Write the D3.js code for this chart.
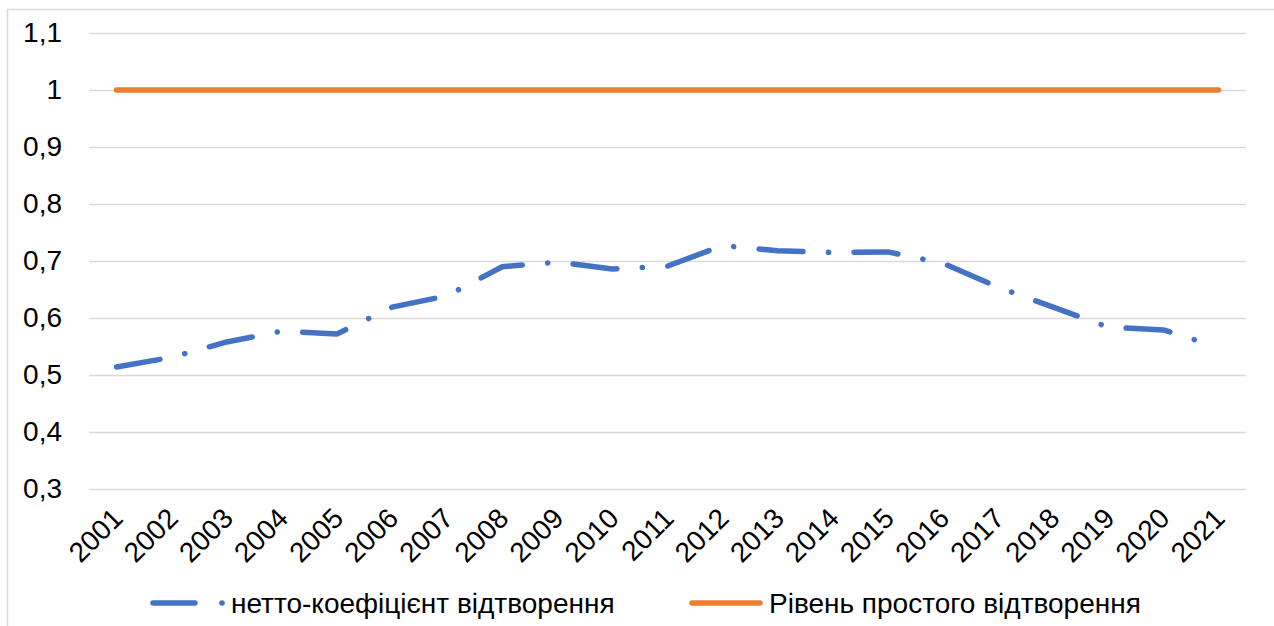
<!DOCTYPE html>
<html>
<head>
<meta charset="utf-8">
<script src="https://cdn.jsdelivr.net/npm/d3@7"></script>
<style>
  body { margin: 0; background: #fff; }
  svg { display: block; font-family: "Liberation Sans", Arial, sans-serif; }
</style>
</head>
<body>
<div id="chart"></div>
<script>
const years = ["2001", "2002", "2003", "2004", "2005", "2006", "2007", "2008", "2009", "2010", "2011",
  "2012", "2013", "2014", "2015", "2016", "2017", "2018", "2019", "2020", "2021"];
const netto = [0.514, 0.531, 0.558, 0.577, 0.572, 0.619, 0.639, 0.690, 0.698, 0.686, 0.691,
  0.727, 0.718, 0.715, 0.716, 0.696, 0.654, 0.619, 0.584, 0.579, 0.549];
const simple = [1, 1, 1, 1, 1, 1, 1, 1, 1, 1, 1, 1, 1, 1, 1, 1, 1, 1, 1, 1, 1];
const yTicks = [0.3, 0.4, 0.5, 0.6, 0.7, 0.8, 0.9, 1, 1.1];
const seriesNames = ["нетто-коефіцієнт відтворення", "Рівень простого відтворення"];

const width = 1274, height = 626;
const margin = {top: 33, right: 28, bottom: 137, left: 89};
const blue = "#4472c4", orange = "#ed7d31";
const fontSize = 28;

const svg = d3.select("#chart").append("svg")
  .attr("width", width)
  .attr("height", height);

// chart frame
svg.append("rect")
  .attr("x", 7.5).attr("y", 9.5)
  .attr("width", width).attr("height", height)
  .attr("fill", "none")
  .attr("stroke", "#d9d9d9")
  .attr("stroke-width", 1.5);

const x = d3.scaleBand()
  .domain(years)
  .range([margin.left, width - margin.right]);
const cx = d => x(d) + x.bandwidth() / 2;

const y = d3.scaleLinear()
  .domain([0.3, 1.1])
  .range([height - margin.bottom, margin.top]);

const fmt = d => String(d).replace(".", ",");

// y grid + labels
svg.append("g")
  .attr("transform", `translate(${margin.left},0)`)
  .call(d3.axisLeft(y).tickValues(yTicks).tickFormat(fmt)
    .tickSize(-(width - margin.left - margin.right)).tickPadding(27))
  .call(g => g.select(".domain").remove())
  .call(g => g.selectAll(".tick line").attr("stroke", "#d9d9d9").attr("stroke-width", 1.5))
  .call(g => g.selectAll(".tick text")
    .attr("font-size", fontSize).attr("fill", "#000")
    .attr("font-family", "Liberation Sans, Arial, sans-serif"));

// x labels, rotated
svg.append("g")
  .selectAll("text")
  .data(years)
  .join("text")
    .attr("transform", d => `translate(${cx(d) + 8},${y(0.3) + 31}) rotate(-45)`)
    .attr("text-anchor", "end")
    .attr("font-size", fontSize)
    .attr("fill", "#000")
    .text(d => d);

// simple reproduction level
svg.append("path")
  .datum(simple)
  .attr("fill", "none")
  .attr("stroke", orange)
  .attr("stroke-width", 5.5)
  .attr("stroke-linecap", "round")
  .attr("d", d3.line().x((d, i) => cx(years[i])).y(d => y(d)));

// netto line, dash-dot
svg.append("path")
  .datum(netto)
  .attr("fill", "none")
  .attr("stroke", blue)
  .attr("stroke-width", 5.5)
  .attr("stroke-linecap", "round")
  .attr("stroke-linejoin", "round")
  .attr("stroke-dasharray", "44 25.5 0.1 25.5")
  .attr("d", d3.line().x((d, i) => cx(years[i])).y(d => y(d)));

// legend
const leg = svg.append("g").attr("transform", "translate(0,603)");
leg.append("line")
  .attr("x1", 153).attr("x2", 195)
  .attr("stroke", blue).attr("stroke-width", 5.5).attr("stroke-linecap", "round");
leg.append("circle")
  .attr("cx", 222).attr("r", 2.8).attr("fill", blue);
leg.append("text")
  .attr("x", 231).attr("dy", "0.35em")
  .attr("font-size", fontSize).attr("fill", "#000")
  .text(seriesNames[0]);
leg.append("line")
  .attr("x1", 692).attr("x2", 760)
  .attr("stroke", orange).attr("stroke-width", 5.5).attr("stroke-linecap", "round");
leg.append("text")
  .attr("x", 769).attr("dy", "0.35em")
  .attr("font-size", fontSize).attr("fill", "#000")
  .text(seriesNames[1]);
</script>
</body>
</html>
